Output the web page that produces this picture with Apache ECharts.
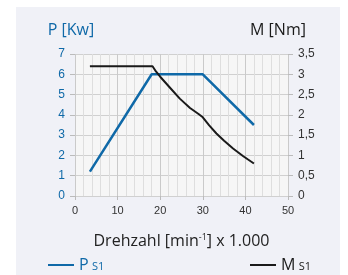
<!DOCTYPE html>
<html>
<head>
<meta charset="utf-8">
<script src="https://cdn.jsdelivr.net/npm/echarts@6/dist/echarts.min.js"></script>
<style>
  html, body { margin: 0; padding: 0; background: #fff; }
  #wrap { position: absolute; left: 16px; top: 7px; width: 324px; height: 268px; background: #f0f1f7; }
  #chart { position: absolute; left: 0; top: 0; width: 348px; height: 275px; }
</style>
</head>
<body>
<div id="wrap"></div>
<div id="chart"></div>
<script>
// power curve P S1 [kW] vs speed [x1000 rpm]
const powerData = [[3.5, 1.2], [18, 6], [30, 6], [42, 3.5]]
// torque curve M S1 [Nm]
const torqueData = [
  [3.5, 3.2], [18.2, 3.2], [19, 3.07], [20, 2.94], [22.2, 2.68], [24.6, 2.4],
  [27, 2.17], [29, 2.02], [30, 1.94], [31.5, 1.74], [33.2, 1.54], [35, 1.36],
  [37.1, 1.17], [39.5, 0.98], [42, 0.8]
]
const leftTitle = 'P [Kw]'
const rightTitle = 'M [Nm]'

const blue = '#0f69a8'
const labelFont = '"Liberation Sans Narrow", "Liberation Sans", sans-serif'
const textFont = '"Open Sans", "Noto Sans", sans-serif'

const chart = echarts.init(document.getElementById('chart'), null, { renderer: 'canvas' })

chart.setOption({
  animation: false,
  grid: { left: 75, right: 60, top: 54, bottom: 79, show: true, backgroundColor: '#f6f6f6', borderWidth: 0 },
  legend: [
    {
      left: 43, top: 252, itemWidth: 26, itemHeight: 2, itemGap: 4,
      icon: 'rect',
      data: ['P'],
      formatter: '{a|P} {b|S1}',
      textStyle: { rich: { a: { fontSize: 16, color: blue, fontFamily: textFont }, b: { fontSize: 11, color: blue, fontFamily: textFont, padding: [4, 0, 0, 0] } } }
    },
    {
      left: 245, top: 252, itemWidth: 26, itemHeight: 2, itemGap: 4,
      icon: 'rect',
      data: ['M'],
      formatter: '{a|M} {b|S1}',
      textStyle: { rich: { a: { fontSize: 16, color: '#1a1a1a', fontFamily: textFont }, b: { fontSize: 11, color: '#1a1a1a', fontFamily: textFont, padding: [4, 0, 0, 0] } } }
    }
  ],
  xAxis: {
    type: 'value',
    min: 0, max: 50, interval: 10,
    name: 'Drehzahl [min{sup|-1}] x 1.000',
    nameLocation: 'middle',
    nameGap: 37,
    nameTextStyle: {
      fontSize: 16, color: '#222', fontFamily: textFont,
      rich: { sup: { fontSize: 9, color: '#222', fontFamily: textFont, padding: [0, 0, 8, 0] } }
    },
    axisLine: { show: false },
    axisTick: { show: true, length: 4, lineStyle: { color: '#bbb' } },
    axisLabel: { color: '#333', fontSize: 11, fontFamily: labelFont, margin: 9 },
    splitLine: { show: true, lineStyle: { color: '#cacaca', width: 1 } },
    minorTick: { show: false, splitNumber: 5 },
    minorSplitLine: { show: true, lineStyle: { color: '#dedede', width: 1 } }
  },
  yAxis: [
    {
      type: 'value',
      min: 0, max: 7, interval: 1,
      name: leftTitle,
      nameLocation: 'end',
      nameGap: 16,
      nameTextStyle: { fontSize: 16, color: blue, fontFamily: textFont, padding: [0, 8, 0, 0] },
      axisLine: { show: false },
      axisTick: { show: true, length: 5, lineStyle: { color: '#bbb' } },
      axisLabel: { color: blue, fontSize: 12, fontFamily: labelFont, margin: 10 },
      splitLine: { show: true, lineStyle: { color: '#d0d0d0', width: 1 } }
    },
    {
      type: 'value',
      min: 0, max: 3.5, interval: 0.5,
      position: 'right',
      name: rightTitle,
      nameLocation: 'end',
      nameGap: 16,
      nameTextStyle: { fontSize: 16, color: '#1a1a1a', fontFamily: textFont, padding: [0, 20, 0, 0] },
      axisLine: { show: false },
      axisTick: { show: true, length: 5, lineStyle: { color: '#bbb' } },
      axisLabel: {
        color: '#333', fontSize: 12, fontFamily: labelFont, margin: 10,
        formatter: v => String(v).replace('.', ',')
      },
      splitLine: { show: false }
    }
  ],
  series: [
    {
      name: 'P',
      type: 'line',
      yAxisIndex: 0,
      data: powerData,
      symbol: 'none',
      color: blue,
      lineStyle: { color: blue, width: 2.5 }
    },
    {
      name: 'M',
      type: 'line',
      yAxisIndex: 1,
      data: torqueData,
      symbol: 'none',
      color: '#1a1a1a',
      lineStyle: { color: '#1a1a1a', width: 2, join: 'round' }
    }
  ]
})
</script>
</body>
</html>
